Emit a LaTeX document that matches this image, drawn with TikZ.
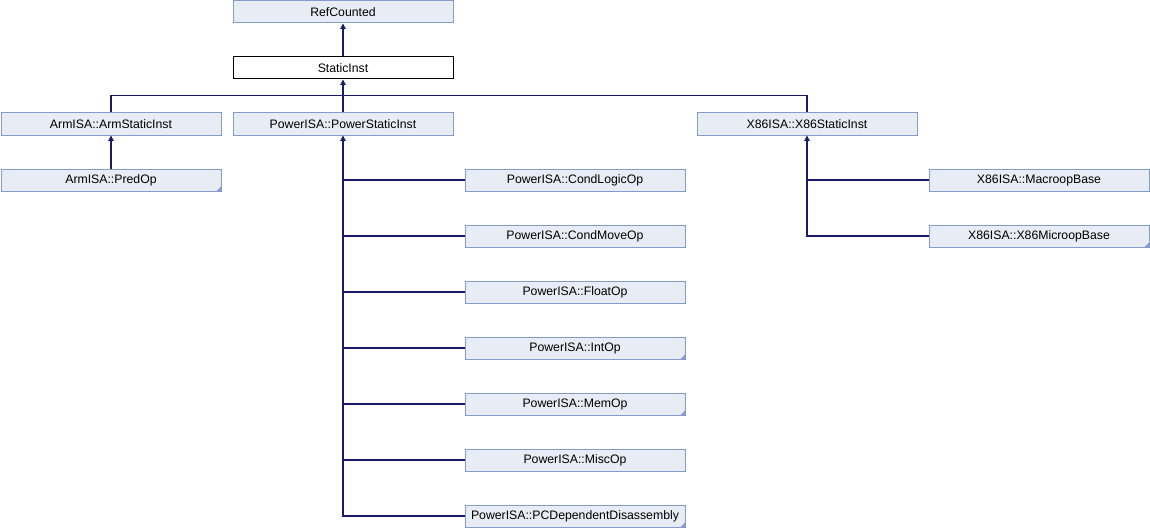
\documentclass[tikz,border=0pt]{standalone}
\usepackage{fontspec}
\setmainfont{Liberation Sans}
\usetikzlibrary{positioning,arrows.meta}
\definecolor{boxfill}{RGB}{232,236,245}
\definecolor{boxline}{RGB}{132,155,204}
\definecolor{edgeblue}{RGB}{25,25,112}

\begin{document}
\begin{tikzpicture}[
    node distance=42pt,
    cls/.style={rectangle, draw=boxline, fill=boxfill, line width=0.75pt, minimum width=165pt, minimum height=16.5pt, inner sep=0pt, font=\fontsize{9.2}{11}\selectfont},
    current/.style={cls, draw=black, fill=white},
    edge/.style={draw=edgeblue, line width=0.8pt},
    arrow/.style={edge, -{Triangle[length=4pt,width=4pt]}}
]
\useasboundingbox (0,0) rectangle (862.5pt,-396pt);

\node[cls] (refcnt) at (257.25pt,-9pt) {RefCounted};
\node[current, below of=refcnt] (static) {StaticInst};
\node[cls, below of=static] (power) {PowerISA::PowerStaticInst};
\node[cls, left of=power, node distance=174pt] (arm) {ArmISA::ArmStaticInst};
\node[cls, right of=power, node distance=348pt] (x86) {X86ISA::X86StaticInst};
\node[cls, below of=arm] (predop) {ArmISA::PredOp};

\node[cls, below of=power, xshift=174pt] (condlogic) {PowerISA::CondLogicOp};
\node[cls, below of=condlogic] (condmove) {PowerISA::CondMoveOp};
\node[cls, below of=condmove] (float) {PowerISA::FloatOp};
\node[cls, below of=float] (intop) {PowerISA::IntOp};
\node[cls, below of=intop] (memop) {PowerISA::MemOp};
\node[cls, below of=memop] (miscop) {PowerISA::MiscOp};
\node[cls, below of=miscop] (pcdep) {PowerISA::PCDependentDisassembly};

\node[cls, below of=x86, xshift=174pt] (macroop) {X86ISA::MacroopBase};
\node[cls, below of=macroop] (x86micro) {X86ISA::X86MicroopBase};

% Arrows
\draw[arrow] (static) -- (refcnt);
\draw[arrow] (power) -- (static);
\coordinate (bar) at ([yshift=12.75pt]power.north);
\draw[edge] (arm.north) |- (bar) -| (x86.north);
\draw[arrow] (predop) -- (arm);

\draw[arrow] (pcdep.west) -| (power.south);
\foreach \n in {condlogic,condmove,float,intop,memop,miscop}
    \draw[edge] (\n.west) -- (\n.west -| power.south);

\draw[arrow] (x86micro.west) -| (x86.south);
\draw[edge] (macroop.west) -- (macroop.west -| x86.south);

% folded corners
\foreach \n in {predop,intop,memop,pcdep,x86micro}
    \fill[boxline] ([xshift=-4pt]\n.south east) -- (\n.south east) -- ([yshift=4pt]\n.south east) -- cycle;

\end{tikzpicture}
\end{document}
